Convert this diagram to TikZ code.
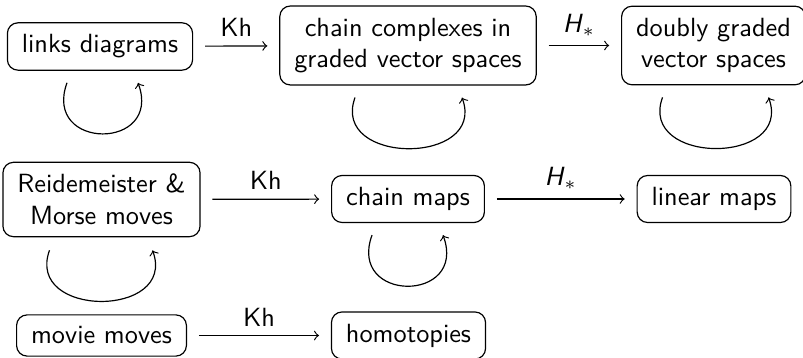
\documentclass[tikz,border=0pt]{standalone}
\usetikzlibrary{calc}
\begin{document}
\begin{tikzpicture}[x=0.38pt,y=0.38pt,font=\sffamily,
  box/.style={draw,rounded corners=4pt,align=center,inner xsep=5.5pt,inner ysep=4.5pt,line width=0.45pt},
  map/.style={->,line width=0.45pt,shorten <=4.5pt,shorten >=4.5pt},
  selfloop/.style={->,line width=0.45pt,out=-110,in=-70,distance=27.5pt}]
\useasboundingbox (0,0) rectangle (803,-358);
\node[box] (ld) at (100,-46.5) {links diagrams};
\node[box] (cc) at (408,-45.5) {chain complexes in\\graded vector spaces};
\node[box] (dg) at (713.5,-45.5) {doubly graded\\vector spaces};
\node[box] (rm) at (101.5,-199.5) {Reidemeister \&\\Morse moves};
\node[box] (cm) at (408,-199) {chain maps};
\node[box] (lm) at (714,-199) {linear maps};
\node[box] (mm) at (101.5,-335.5) {movie moves};
\node[box] (ho) at (408.5,-335.5) {homotopies};
\draw[map] (ld) -- node[above] {Kh} (cc);
\draw[map] (cc) -- node[above] {\textit{H}$_*$} (dg);
\draw[map] (rm) -- node[above] {Kh} (cm);
\draw[map] (cm) -- node[above] {\textit{H}$_*$} (lm);
\draw[map] (mm) -- node[above] {Kh} (ho);
\draw[selfloop] ($(ld.south)+(-33,-12)$) to ($(ld.south)+(38,-12)$);
\draw[selfloop] ($(cc.south)+(-53,-12)$) to ($(cc.south)+(54,-12)$);
\draw[selfloop] ($(dg.south)+(-51,-12)$) to ($(dg.south)+(55,-12)$);
\draw[selfloop] ($(rm.south)+(-52,-13)$) to ($(rm.south)+(51,-13)$);
\draw[selfloop] ($(cm.south)+(-36,-12)$) to ($(cm.south)+(35,-12)$);
\end{tikzpicture}
\end{document}
